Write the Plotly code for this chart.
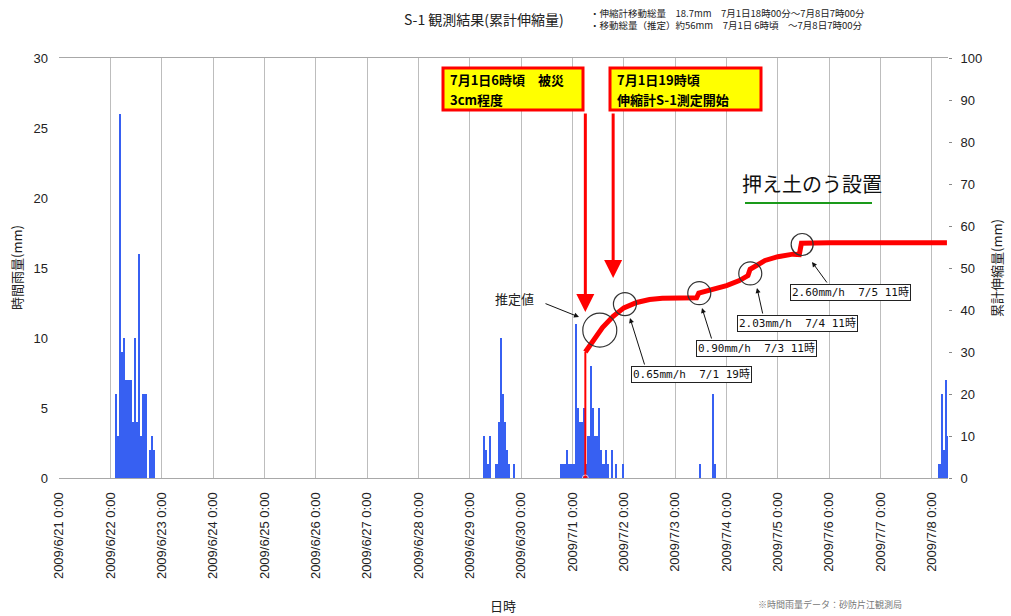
import plotly.graph_objects as go
import pandas as pd

# ---------------- data ----------------
# hourly rainfall (mm); hours = starting hour of each rainfall hour
rain_0622_hours = [2, 3, 4, 5, 6, 7, 8, 9, 10, 11, 12, 13, 14, 15, 16, 17, 18, 19, 20]
rain_0622_mm = [6, 3, 26, 9, 10, 7, 7, 7, 4, 10, 4, 16, 3, 6, 6, 0, 2, 3, 2]
rain_0629_hours = [6, 7, 8, 9, 10, 11, 12, 13, 14, 15, 16, 17, 18, 19, 20]
rain_0629_mm = [3, 2, 1, 3, 0, 0, 1, 4, 10, 6, 4, 2, 1, 0, 1]
rain_0630_hours = [18, 19, 20, 21, 22, 23]
rain_0630_mm = [1, 1, 1, 2, 1, 1]
rain_0701_hours = list(range(24))
rain_0701_mm = [1, 11, 5, 4, 4, 5, 1, 3, 8, 5, 3, 3, 5, 2, 1, 2, 1, 0, 2, 0, 1, 0, 0, 1]
rain_0703_hours = [11, 17, 18]
rain_0703_mm = [1, 6, 1]
rain_0708_hours = [3, 4, 5, 6, 7]
rain_0708_mm = [1, 6, 2, 7, 3]

# cumulative extension (mm)
disp_time = ["2009-07-01 06:00", "2009-07-01 10:00", "2009-07-01 14:00", "2009-07-01 19:00",
             "2009-07-02 00:00", "2009-07-02 06:00", "2009-07-02 12:00", "2009-07-02 18:00",
             "2009-07-03 10:00", "2009-07-03 11:00", "2009-07-03 18:00", "2009-07-04 00:00",
             "2009-07-04 06:00", "2009-07-04 10:00", "2009-07-04 11:00", "2009-07-04 18:00",
             "2009-07-05 00:00", "2009-07-05 07:00", "2009-07-05 10:00", "2009-07-05 11:00",
             "2009-07-06 00:00", "2009-07-08 07:00"]
disp_mm = [30.0, 33.0, 35.8, 38.5,
           40.5, 41.8, 42.5, 42.8,
           42.9, 44.0, 44.9, 45.8,
           47.0, 48.2, 49.7, 51.8,
           52.7, 53.3, 53.2, 55.9,
           56.0, 56.0]
onset_time = ["2009-07-01 06:00", "2009-07-01 06:00"]
onset_mm = [0, 30]

day_ticks = pd.date_range("2009-06-21", "2009-07-08", freq="D")
tick_labels = [f"{d.year}/{d.month}/{d.day} 0:00" for d in day_ticks]

rate_labels = ["0.65mm/h  7/1 19時", "0.90mm/h  7/3 11時", "2.03mm/h  7/4 11時", "2.60mm/h  7/5 11時"]
event_lines = [("7月1日6時頃　被災", "3cm程度"), ("7月1日19時頃", "伸縮計S-1測定開始")]

# ---------------- build ----------------
def stamps(day, hours):
    return [pd.Timestamp(day) + pd.Timedelta(minutes=60 * h + 30) for h in hours]

rain_x, rain_y = [], []
for day, hrs, mm in [("2009-06-22", rain_0622_hours, rain_0622_mm),
                     ("2009-06-29", rain_0629_hours, rain_0629_mm),
                     ("2009-06-30", rain_0630_hours, rain_0630_mm),
                     ("2009-07-01", rain_0701_hours, rain_0701_mm),
                     ("2009-07-03", rain_0703_hours, rain_0703_mm),
                     ("2009-07-08", rain_0708_hours, rain_0708_mm)]:
    rain_x += stamps(day, hrs)
    rain_y += mm

CJK = "Noto Sans CJK JP"
LAT = "Liberation Sans, Arial, sans-serif"
MONO = "DejaVu Sans Mono, Noto Sans CJK JP"

fig = go.Figure()
fig.add_trace(go.Bar(x=rain_x, y=rain_y, width=3600 * 1000, marker=dict(color="#3760F2", line=dict(width=0)),
                     yaxis="y", showlegend=False))
fig.add_trace(go.Scatter(x=onset_time, y=onset_mm, mode="lines+markers", yaxis="y2",
                         line=dict(color="#FF0000", width=2), marker=dict(size=[6, 0], color="#FF0000"),
                         showlegend=False))
fig.add_trace(go.Scatter(x=disp_time, y=disp_mm, mode="lines", yaxis="y2",
                         line=dict(color="#FF0000", width=5), showlegend=False))

L, R, T, B = 59, 63, 58, 138
W, H = 1011, 616
PW, PH = W - L - R, H - T - B


def PX(x):
    return (x - L) / PW


def PY(y):
    return (H - B - y) / PH


def note(**kw):
    d = dict(xref="paper", yref="paper", xanchor="center", yanchor="middle", showarrow=False)
    d.update(kw)
    return d


ann = []
shapes = []
# title and notes
ann.append(note(text="S-1 観測結果(累計伸縮量)", x=PX(484), y=PY(19),
                font=dict(family=CJK, size=14, color="#222")))
ann.append(note(text="・伸縮計移動総量　18.7mm　7月1日18時00分～7月8日7時00分<br>・移動総量（推定）約56mm　7月1日 6時頃　～7月8日7時00分",
                x=PX(588), y=PY(19), xanchor="left", align="left",
                font=dict(family=CJK, size=9.5, color="#222")))
# axis titles
ann.append(note(text="時間雨量(mm)", x=PX(16), y=PY(268), textangle=-90,
                font=dict(family=CJK, size=13, color="#222")))
ann.append(note(text="累計伸縮量(mm)", x=PX(996), y=PY(268), textangle=-90,
                font=dict(family=CJK, size=13, color="#222")))
ann.append(note(text="日時", x=PX(503), y=PY(605), font=dict(family=CJK, size=13, color="#222")))
ann.append(note(text="※時間雨量データ：砂防片江観測局", x=PX(830), y=PY(604),
                font=dict(family=CJK, size=9, color="#777")))
# yellow event boxes
event_boxes = [(443, 583), (610, 761)]
for (x0, x1), (l1, l2) in zip(event_boxes, event_lines):
    shapes.append(dict(type="rect", xref="paper", yref="paper", x0=PX(x0), x1=PX(x1), y0=PY(110), y1=PY(68),
                       fillcolor="#FFFF00", line=dict(color="#FF0000", width=3), layer="above"))
    ann.append(note(text=f"<b>{l1}</b>", x=PX(x0 + 5), y=PY(79), xanchor="left",
                    font=dict(family=CJK, size=13, color="#000")))
    ann.append(note(text=f"<b>{l2}</b>", x=PX(x0 + 5), y=PY(99), xanchor="left",
                    font=dict(family=CJK, size=13, color="#000")))
# red arrows
ann.append(dict(text="", x="2009-07-01 06:00", xref="x", y=PY(312), yref="paper", ax=0, ay=-200,
                showarrow=True, arrowhead=2, arrowsize=1.2, arrowwidth=3, arrowcolor="#FF0000"))
ann.append(dict(text="", x="2009-07-01 19:00", xref="x", y=PY(278), yref="paper", ax=0, ay=-166,
                showarrow=True, arrowhead=2, arrowsize=1.2, arrowwidth=3, arrowcolor="#FF0000"))
# estimated value note
ann.append(note(text="推定値", x=PX(514), y=PY(298), font=dict(family=CJK, size=13, color="#222")))
ann.append(dict(text="", x=PX(579), y=PY(317), xref="paper", yref="paper", ax=-35, ay=-14,
                showarrow=True, arrowhead=2, arrowsize=1, arrowwidth=1, arrowcolor="#111"))
# rate labels with arrows
rate_box = [(691, 374.5), (756, 348), (797, 323.5), (850, 292)]
rate_head = [(630, 318), (702, 308), (757, 288), (812, 262)]
rate_tail = [(645, 366), (712, 340), (763, 315), (828, 284)]
for t, (bx, by), (hx, hy), (tx, ty) in zip(rate_labels, rate_box, rate_head, rate_tail):
    ann.append(dict(text="", x=PX(hx), y=PY(hy), xref="paper", yref="paper", ax=tx - hx, ay=ty - hy,
                    showarrow=True, arrowhead=2, arrowsize=1, arrowwidth=1, arrowcolor="#111"))
    ann.append(note(text=t, x=PX(bx), y=PY(by),
                    bgcolor="#FFFFFF", bordercolor="#222", borderwidth=1, borderpad=1,
                    font=dict(family=MONO, size=11, color="#111")))
# counterweight sandbag note
ann.append(note(text="押え土のう設置", x=PX(812), y=PY(183), font=dict(family=CJK, size=20, color="#111")))

shapes.append(dict(type="line", xref="paper", yref="paper", x0=PX(745), x1=PX(872), y0=PY(203), y1=PY(203),
                   line=dict(color="#1A9A1A", width=2)))
circles = [("2009-07-01 12:45", 35.2, 17), ("2009-07-02 00:30", 41.4, 11.5), ("2009-07-03 11:15", 44.0, 11.5),
           ("2009-07-04 11:05", 48.7, 11.5), ("2009-07-05 11:20", 55.6, 11)]
for cx, cy, r in circles:
    shapes.append(dict(type="circle", xref="x", yref="y2", xsizemode="pixel", ysizemode="pixel",
                       xanchor=cx, yanchor=cy, x0=-r, x1=r, y0=-r, y1=r,
                       line=dict(color="#333", width=1.2)))

fig.update_layout(
    width=W, height=H, margin=dict(l=L, r=R, t=T, b=B),
    paper_bgcolor="white", plot_bgcolor="white", bargap=0,
    annotations=ann, shapes=shapes,
    xaxis=dict(type="date", range=["2009-06-21 00:00", "2009-07-08 07:30"], tickmode="array",
               tickvals=list(day_ticks), ticktext=tick_labels, tickangle=-90,
               tickfont=dict(family=LAT, size=13, color="#222"), ticklabelstandoff=8,
               showgrid=True, gridcolor="#BDBDBD", gridwidth=1.3,
               showline=True, linecolor="#A8A8A8", linewidth=1.3, mirror=True, zeroline=False),
    yaxis=dict(range=[0, 30], dtick=5, showgrid=False, zeroline=False, showline=False,
               tickfont=dict(family=LAT, size=13, color="#222"), ticklabelstandoff=10),
    yaxis2=dict(range=[0, 100], dtick=10, overlaying="y", side="right", showgrid=False, zeroline=False,
                ticks="outside", ticklen=3, tickcolor="#888", showline=False,
                tickfont=dict(family=LAT, size=13, color="#222"), ticklabelstandoff=6),
)

fig.write_html("out.html")
